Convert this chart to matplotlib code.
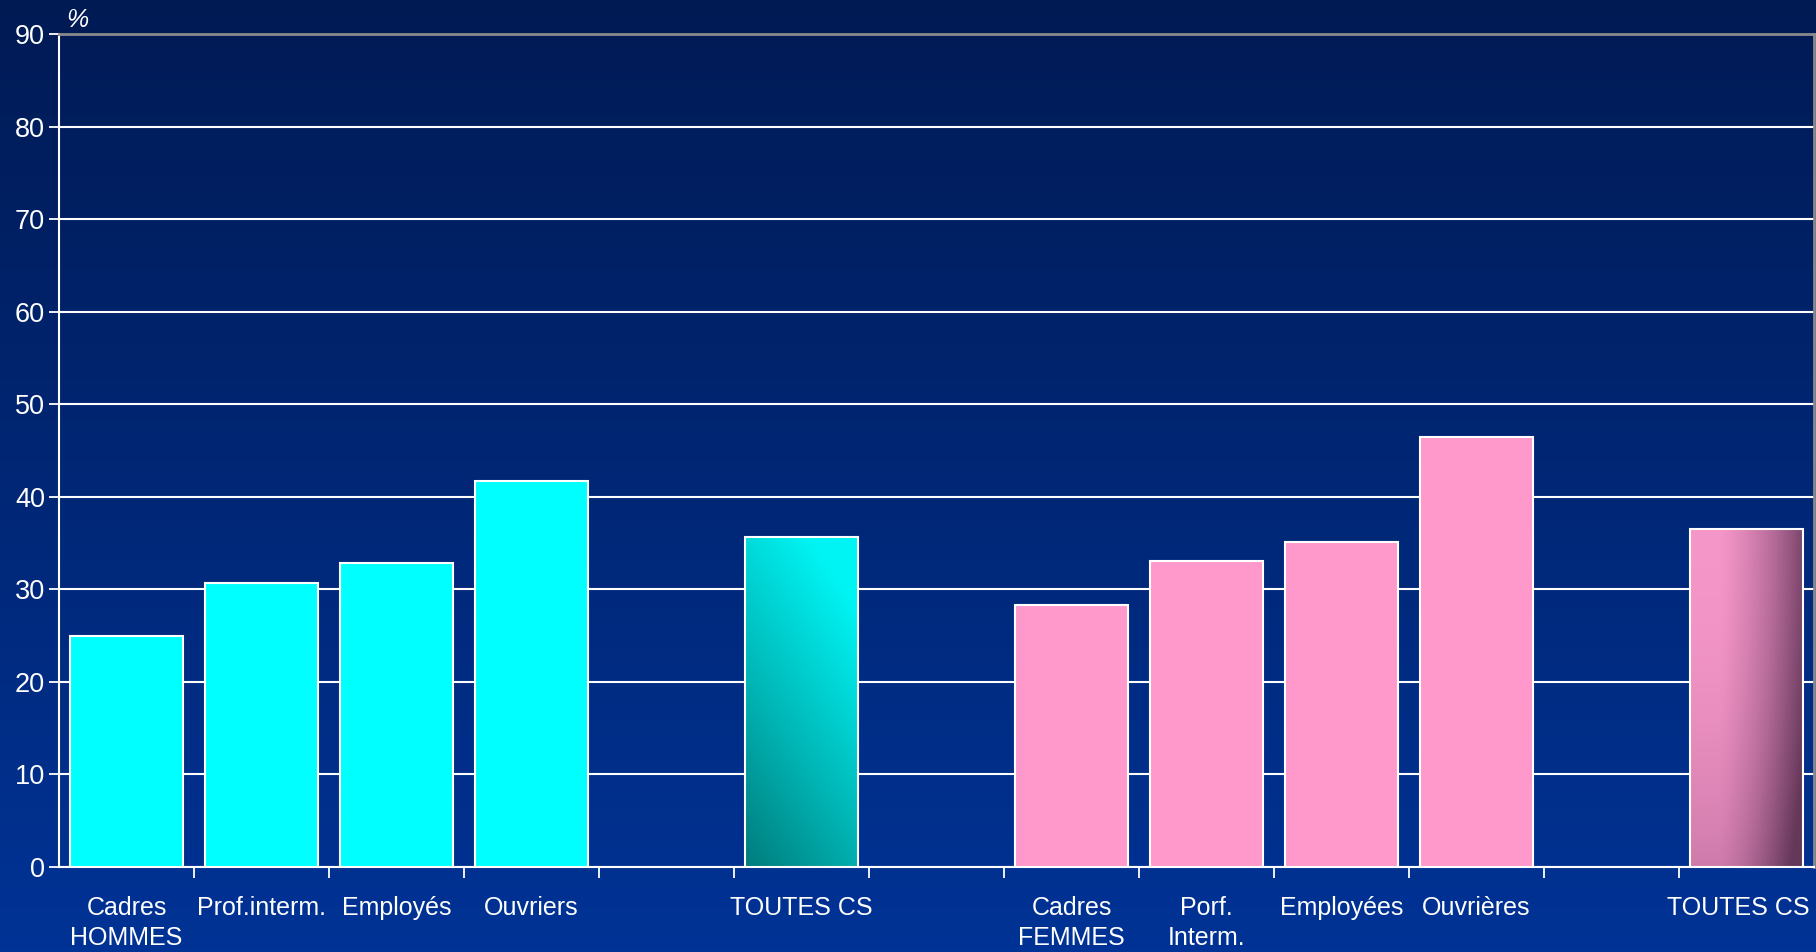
import matplotlib.pyplot as plt
import matplotlib.transforms as mtransforms
import numpy as np
from matplotlib.colors import LinearSegmentedColormap

plt.rcParams['font.family'] = ['Liberation Sans', 'DejaVu Sans']

# slots on the x axis (empty strings are spacer slots)
labels = ['Cadres\nHOMMES', 'Prof.interm.', 'Employés', 'Ouvriers', '',
          'TOUTES CS', '', 'Cadres\nFEMMES', 'Porf.\nInterm.', 'Employées',
          'Ouvrières', '', 'TOUTES CS']
hommes_pos = [0, 1, 2, 3]
hommes_val = [25.0, 30.7, 32.8, 41.7]
femmes_pos = [7, 8, 9, 10]
femmes_val = [28.3, 33.1, 35.1, 46.5]
total_h_pos, total_h_val = 5, 35.7
total_f_pos, total_f_val = 12, 36.5
yticks = [0, 10, 20, 30, 40, 50, 60, 70, 80, 90]

fig = plt.figure(figsize=(18.16, 9.52), dpi=100)

# background gradient
bg = fig.add_axes([0, 0, 1, 1])
bg_cmap = LinearSegmentedColormap.from_list('bg', ['#003396', '#001a54'])
bg.imshow(np.linspace(0, 1, 256).reshape(-1, 1)[::-1], aspect='auto',
          cmap=bg_cmap, extent=[0, 1, 0, 1])
bg.set_axis_off()

ax = fig.add_axes([59 / 1816, 1 - 867 / 952, (1814 - 59) / 1816, (867 - 34) / 952])
ax.set_facecolor('none')

ax.bar(hommes_pos, hommes_val, width=0.83, color='#00ffff', edgecolor='white',
       linewidth=1.5, zorder=3)
ax.bar(femmes_pos, femmes_val, width=0.83, color='#ff99cc', edgecolor='white',
       linewidth=1.5, zorder=3)

# shaded "TOUTES CS" bars
def gradient_bar(pos, val, colors, kind):
    b = ax.bar([pos], [val], width=0.83, color='none', edgecolor='white',
               linewidth=1.5, zorder=4)[0]
    xx, yy = np.meshgrid(np.linspace(0, 1, 100), np.linspace(0, 1, 200))
    if kind == 'teal':
        t = np.clip(0.1 + 0.35 * xx + 0.7 * yy, 0, 1)
    else:
        dark = np.clip((xx - 0.25) / 0.75, 0, 1) ** 1.3
        t = np.clip(1 - 0.85 * dark - 0.3 * (1 - yy) ** 2, 0, 1)
    cmap = LinearSegmentedColormap.from_list('g', colors)
    im = ax.imshow(t, origin='lower', aspect='auto', cmap=cmap, vmin=0, vmax=1,
                   extent=[pos - 0.415, pos + 0.415, 0, val], zorder=3)
    im.set_clip_path(b)

gradient_bar(total_h_pos, total_h_val, ['#006e6e', '#00b4b4', '#00f4f4'], 'teal')
gradient_bar(total_f_pos, total_f_val, ['#65385a', '#b46a98', '#f596c8'], 'pink')

ax.set_xlim(-0.5, len(labels) - 0.5)
ax.set_ylim(0, 90)
ax.set_yticks(yticks)
ax.yaxis.grid(True, color='white', linewidth=1.5, zorder=1)
ax.set_axisbelow(True)

ax.set_xticks(range(len(labels)))
ax.set_xticklabels(labels, color='white', fontsize=18, linespacing=1.3)
ax.set_xticks(np.arange(0.5, len(labels) - 0.5, 1), minor=True)
ax.tick_params(axis='x', which='major', length=0, pad=21)
ax.tick_params(axis='x', which='minor', length=8, width=1.3, color='white',
               direction='out')
ax.tick_params(axis='y', colors='white', labelsize=19.5, length=7, width=1.3, pad=3)

# keep the last label inside the figure
last = ax.get_xticklabels()[-1]
last.set_transform(last.get_transform() +
                   mtransforms.ScaledTranslation(-8 / 100, 0, fig.dpi_scale_trans))

ax.spines['left'].set_color('white')
ax.spines['bottom'].set_color('white')
ax.spines['left'].set_linewidth(1.5)
ax.spines['bottom'].set_linewidth(1.5)
ax.spines['top'].set_color('#8a8a8a')
ax.spines['right'].set_color('#8a8a8a')
ax.spines['top'].set_linewidth(2)
ax.spines['right'].set_linewidth(2)

fig.text(66 / 1816, 1 - 20 / 952, '%', color='white', fontsize=18,
         style='italic', va='center')

fig.savefig('out.png', dpi=100)
